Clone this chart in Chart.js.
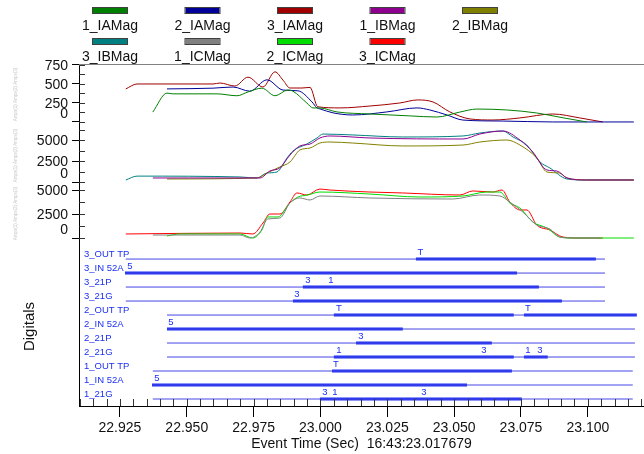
<!DOCTYPE html>
<html>
<head>
<meta charset="utf-8">
<title>Event record</title>
<script src="https://cdn.jsdelivr.net/npm/chart.js@4.4.1/dist/chart.umd.min.js"></script>
<style>
  body { margin: 0; background: #fff; }
  #wrap { width: 644px; height: 454px; }
</style>
</head>
<body>
<div id="wrap"><canvas id="recChart" width="644" height="454"></canvas></div>
<script>
// Analog channels: [time (s), magnitude (A)]
const ia1 = [[22.9373,130],[22.9426,380],[22.9448,370],[22.9613,370],[22.9688,345],[22.9729,395],[22.9781,445],[22.9830,345],[22.9878,420],[22.9897,405],[22.9949,250],[22.9972,185],[22.9998,184],[23.0062,132],[23.0185,105],[23.0334,80],[23.0435,65],[23.0521,130],[23.0585,170],[23.0697,158],[23.0809,118],[23.0907,55],[23.0996,0]];
const ia2 = [[22.9426,435],[22.9598,445],[22.9673,460],[22.9736,405],[22.9800,555],[22.9860,420],[22.9916,410],[22.9968,265],[22.9987,185],[22.9998,172],[23.0047,120],[23.0121,92],[23.0248,132],[23.0361,185],[23.0409,158],[23.0473,92],[23.0533,25],[23.0682,12],[23.0869,0],[23.1172,0]];
const ia3 = [[22.9272,435],[22.9314,500],[22.9598,500],[22.9624,513],[22.9680,473],[22.9729,590],[22.9785,460],[22.9830,660],[22.9860,550],[22.9886,447],[22.9931,447],[22.9961,455],[22.9990,200],[23.0073,185],[23.0185,210],[23.0297,250],[23.0364,290],[23.0421,263],[23.0484,132],[23.0559,40],[23.0645,26],[23.0746,53],[23.0869,105],[23.0970,53],[23.1056,0]];
const ib1 = [[22.9373,480],[22.9774,480],[22.9811,1310],[22.9848,1670],[22.9886,3210],[22.9923,4290],[22.9961,4520],[22.9998,5240],[23.0035,5480],[23.0185,5240],[23.0533,5120],[23.0596,5710],[23.0682,6070],[23.0746,5000],[23.0794,3570],[23.0847,1430],[23.0884,1310],[23.0922,480],[23.0996,240],[23.1172,240]];
const ib2 = [[22.9426,360],[22.9762,480],[22.9800,1070],[22.9848,1790],[22.9886,2380],[22.9923,3810],[22.9961,4050],[22.9998,4640],[23.0035,4760],[23.0121,4640],[23.0308,4290],[23.0533,4400],[23.0596,4760],[23.0697,5000],[23.0746,4400],[23.0809,2860],[23.0847,1190],[23.0895,1070],[23.0922,480],[23.0996,240],[23.1172,240]];
const ib3 = [[22.9272,240],[22.9314,700],[22.9699,600],[22.9762,480],[22.9800,1070],[22.9837,1190],[22.9875,2860],[22.9897,3690],[22.9949,4520],[22.9987,5240],[23.0009,5710],[23.0121,5600],[23.0308,5360],[23.0533,5480],[23.0596,5830],[23.0682,6070],[23.0720,5360],[23.0772,4400],[23.0821,2380],[23.0858,1670],[23.0922,360],[23.0996,240],[23.1172,240]];
const ic1 = [[22.9373,310],[22.9699,310],[22.9736,0],[22.9774,625],[22.9803,1980],[22.9848,2080],[22.9886,3650],[22.9923,4170],[22.9961,3960],[22.9998,4375],[23.0185,4170],[23.0495,4060],[23.0596,4480],[23.0671,4375],[23.0708,3750],[23.0757,2700],[23.0809,1350],[23.0858,940],[23.0895,100],[23.0944,0],[23.1045,0]];
const ic2 = [[22.9426,210],[22.9474,420],[22.9699,420],[22.9747,0],[22.9781,830],[22.9803,2190],[22.9841,2190],[22.9886,3650],[22.9916,4270],[22.9953,4480],[22.9998,4790],[23.0185,4580],[23.0372,4270],[23.0533,4375],[23.0622,4790],[23.0671,4790],[23.0708,3650],[23.0746,3125],[23.0794,1670],[23.0847,1040],[23.0895,100],[23.0944,0],[23.1172,0]];
const ic3 = [[22.9272,420],[22.9699,520],[22.9747,420],[22.9785,1560],[22.9811,2500],[22.9848,2500],[22.9886,3750],[22.9912,4690],[22.9949,4480],[22.9998,5100],[23.0035,5000],[23.0185,4790],[23.0308,4690],[23.0521,4480],[23.0570,4900],[23.0645,4790],[23.0679,5000],[23.0708,3750],[23.0746,2920],[23.0772,2920],[23.0809,1350],[23.0858,830],[23.0907,100],[23.0970,0],[23.1056,0]];

const analogNames  = ['1_IAMag', '2_IAMag', '3_IAMag', '1_IBMag', '2_IBMag', '3_IBMag', '1_ICMag', '2_ICMag', '3_ICMag'];
const analogSeries = [ia1, ia2, ia3, ib1, ib2, ib3, ic1, ic2, ic3];
const analogAxis   = ['y1', 'y1', 'y1', 'y2', 'y2', 'y2', 'y3', 'y3', 'y3'];
const analogColors = ['#008000', '#000099', '#a00000', '#900090', '#808000', '#008080', '#808080', '#00dd00', '#ff0000'];
const panelTitles  = ['Amps(1) Amps(2) Amps(3)', 'Amps(1) Amps(2) Amps(3)', 'Amps(1) Amps(2) Amps(3)'];

// Digital channels, top to bottom
const digitalNames = ['3_OUT TP', '3_IN 52A', '3_21P', '3_21G', '2_OUT TP', '2_IN 52A', '2_21P', '2_21G', '1_OUT TP', '1_IN 52A', '1_21G'];
const digitalSpan = [[22.9272,23.1064],[22.9269,23.1064],[22.9272,23.1064],[22.9272,23.1064],[22.9426,23.1183],[22.9426,23.1176],[22.9426,23.1176],[22.9426,23.1176],[22.9373,23.1168],[22.9370,23.1168],[22.9373,23.1168]];
const digitalOn = [
  [[23.0357,23.1030]],
  [[22.9269,23.0735]],
  [[22.9934,23.0817]],
  [[22.9897,23.0903]],
  [[23.0050,23.0723],[23.0761,23.1183]],
  [[22.9426,23.0308]],
  [[23.0133,23.0641]],
  [[23.0050,23.0723],[23.0761,23.0850]],
  [[23.0043,23.0716]],
  [[22.9370,23.0548]],
  [[22.9998,23.0753]]
];
const digitalMarks = [
  [['T',23.0374]],
  [['5',22.9287]],
  [['3',22.9953],['1',23.0039]],
  [['3',22.9912]],
  [['T',23.0069],['T',23.0776]],
  [['5',22.9441]],
  [['3',23.0151]],
  [['1',23.0069],['3',23.0611],['1',23.0776],['3',23.0821]],
  [['T',23.0058]],
  [['5',22.9388]],
  [['3',23.0017],['1',23.0054],['3',23.0387]]
];

const timeTicks = [22.925, 22.950, 22.975, 23.000, 23.025, 23.050, 23.075, 23.100];
const iaTicks = [0, 250, 500, 750];
const ibTicks = [0, 2500, 5000];
const icTicks = [0, 2500, 5000];

const FONT = '"Liberation Sans", Arial, sans-serif';
const thinBlue = '#4646e6';
const thickBlue = '#1c30f2';

const datasets = [];
analogSeries.forEach((series, i) => {
    datasets.push({
        label: analogNames[i],
        data: series.map(p => ({ x: p[0], y: p[1] })),
        yAxisID: analogAxis[i],
        borderColor: analogColors[i],
        borderWidth: 1,
        pointRadius: 0,
        cubicInterpolationMode: 'monotone',
        tension: 0.4
    });
});

digitalNames.forEach((name, i) => {
    const level = digitalNames.length - 1 - i;
    datasets.push({
        label: name,
        data: digitalSpan[i].map(t => ({ x: t, y: level })),
        yAxisID: 'yd',
        borderColor: thinBlue,
        borderWidth: 1,
        pointRadius: 0
    });
    const pts = [];
    digitalOn[i].forEach(seg => {
        if (pts.length) pts.push({ x: seg[0], y: null });
        pts.push({ x: seg[0], y: level }, { x: seg[1], y: level });
    });
    datasets.push({
        label: name + ' on',
        data: pts,
        yAxisID: 'yd',
        borderColor: thickBlue,
        borderWidth: 3,
        borderCapStyle: 'butt',
        pointRadius: 0,
        spanGaps: false
    });
});

function fixedTicks(list) {
    return scale => { scale.ticks = list.map(v => ({ value: v })); };
}

// tick labels of these axes are painted by the decor plugin
function ampAxis(ticks, min, max, weight, order) {
    return {
        type: 'linear',
        position: 'left',
        stack: 'rec',
        stackWeight: weight,
        weight: order,
        min: min,
        max: max,
        afterBuildTicks: fixedTicks(ticks),
        afterFit: s => { s.width = 79; },
        border: { display: true, color: '#000' },
        grid: { drawOnChartArea: false, tickLength: 7, color: '#000' },
        ticks: { display: false, autoSkip: false }
    };
}

// Legend, frame, extra ticks and digital captions
const decorPlugin = {
    id: 'decor',
    afterDraw(chart) {
        const ctx = chart.ctx;
        const area = chart.chartArea;
        const xs = chart.scales.x;
        ctx.save();

        // legend grid, two rows
        ctx.font = '14px ' + FONT;
        ctx.textAlign = 'center';
        ctx.textBaseline = 'middle';
        analogNames.forEach((name, i) => {
            const col = i % 5, row = Math.floor(i / 5);
            const cx = 110 + col * 92.5;
            const sy = 10 + row * 31;
            ctx.fillStyle = analogColors[i];
            ctx.fillRect(cx - 17, sy - 2, 34, 5);
            ctx.strokeStyle = '#404040';
            ctx.lineWidth = 1;
            ctx.strokeRect(cx - 17.5, sy - 2.5, 35, 6);
            ctx.fillStyle = '#111';
            ctx.fillText(name, cx, sy + 16);
        });

        // top frame line
        ctx.strokeStyle = '#808080';
        ctx.lineWidth = 1;
        ctx.beginPath();
        ctx.moveTo(area.left, area.top + 0.5);
        ctx.lineTo(area.right, area.top + 0.5);
        ctx.stroke();

        // inner minor ticks along time axis
        ctx.strokeStyle = '#333';
        ctx.beginPath();
        for (let t = 22.910; t <= 23.1205; t += 0.005) {
            const px = Math.round(xs.getPixelForValue(t)) + 0.5;
            ctx.moveTo(px, area.bottom);
            ctx.lineTo(px, area.bottom - 7);
        }
        ctx.stroke();

        // magnitude axes: inner ticks and labels (zero label sits above its tick)
        ctx.font = '14px ' + FONT;
        ctx.textAlign = 'right';
        [['y1', 125, iaTicks], ['y2', 1250, ibTicks], ['y3', 1250, icTicks]].forEach(([id, step, labels]) => {
            const s = chart.scales[id];
            ctx.strokeStyle = '#333';
            ctx.beginPath();
            for (let v = 0; v <= s.max; v += step) {
                const py = Math.round(s.getPixelForValue(v)) + 0.5;
                ctx.moveTo(area.left, py);
                ctx.lineTo(area.left + 6, py);
            }
            ctx.stroke();
            ctx.fillStyle = '#111';
            labels.forEach(v => {
                const py = s.getPixelForValue(v) + (v === 0 ? -8 : 1);
                ctx.fillText(String(v), 68, py);
            });
        });

        // faint rotated panel captions
        ctx.fillStyle = '#c8c8c8';
        ctx.font = '4.5px ' + FONT;
        ctx.textAlign = 'center';
        ['y1', 'y2', 'y3'].forEach((id, i) => {
            const s = chart.scales[id];
            ctx.save();
            ctx.translate(16, (s.top + s.bottom) / 2);
            ctx.rotate(-Math.PI / 2);
            ctx.fillText(panelTitles[i], 0, 0);
            ctx.restore();
        });

        // digital section title
        const yd = chart.scales.yd;
        ctx.save();
        ctx.translate(30, (yd.top + yd.bottom) / 2 + 3);
        ctx.rotate(-Math.PI / 2);
        ctx.fillStyle = '#111';
        ctx.font = '15px ' + FONT;
        ctx.fillText('Digitals', 0, 0);
        ctx.restore();

        // digital names and state marks
        ctx.fillStyle = thickBlue;
        digitalNames.forEach((name, i) => {
            const level = digitalNames.length - 1 - i;
            const py = yd.getPixelForValue(level);
            ctx.textAlign = 'left';
            ctx.font = '9.5px ' + FONT;
            ctx.fillText(name, area.left + 5, py - 5);
            ctx.textAlign = 'center';
            digitalMarks[i].forEach(([txt, t]) => {
                ctx.fillText(txt, xs.getPixelForValue(t), py - 7);
            });
        });
        ctx.restore();
    }
};

new Chart(document.getElementById('recChart'), {
    type: 'line',
    data: { datasets: datasets },
    options: {
        responsive: false,
        animation: false,
        layout: { padding: { top: 64, left: 0, right: 0, bottom: 0 } },
        plugins: {
            legend: { display: false },
            tooltip: { enabled: false }
        },
        scales: {
            x: {
                type: 'linear',
                min: 22.9097,
                max: 23.121,
                afterBuildTicks: fixedTicks(timeTicks),
                afterFit: s => { s.height = 48; },
                border: { display: true, color: '#000' },
                grid: { drawOnChartArea: false, tickLength: 11, color: '#000' },
                ticks: {
                    font: { family: FONT, size: 14 },
                    color: '#111',
                    padding: 3,
                    maxRotation: 0,
                    autoSkip: false,
                    callback: v => v.toFixed(3)
                },
                title: {
                    display: true,
                    text: 'Event Time (Sec)  16:43:23.017679',
                    font: { family: FONT, size: 14 },
                    color: '#111',
                    padding: { top: 0, bottom: 1 }
                }
            },
            y1: ampAxis(iaTicks, -40, 763, 61, 4),
            y2: ampAxis(ibTicks, -476, 6786, 61, 3),
            y3: ampAxis(icTicks, -312, 5417, 55, 2),
            yd: {
                type: 'linear',
                position: 'left',
                stack: 'rec',
                stackWeight: 165,
                weight: 1,
                min: -0.5,
                max: 11.29,
                afterFit: s => { s.width = 79; },
                border: { display: true, color: '#000' },
                grid: { display: false },
                ticks: { display: false }
            }
        }
    },
    plugins: [decorPlugin]
});
</script>
</body>
</html>
